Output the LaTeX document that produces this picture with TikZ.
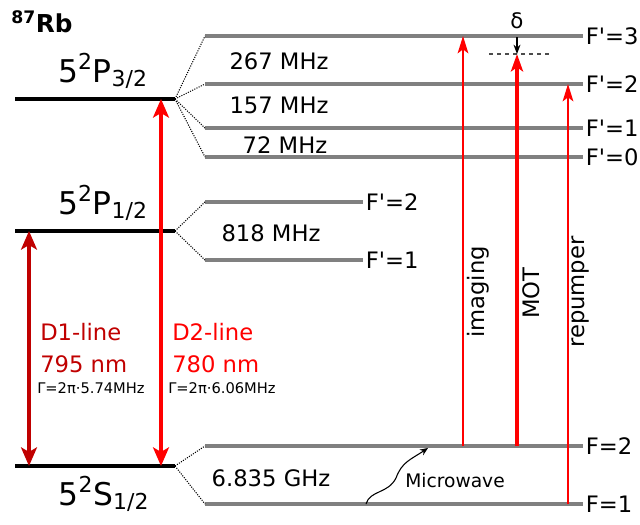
\documentclass[tikz,border=0pt]{standalone}
\usepackage{fontspec}
\setmainfont{DejaVu Sans}
\usetikzlibrary{arrows.meta,calc,positioning}
\definecolor{deepred}{HTML}{C00000}
\definecolor{levelgray}{HTML}{808080}
\newcommand\Fp{F\textquotesingle}

\begin{document}
\begin{tikzpicture}[x=0.75pt,y=-0.75pt,>=Stealth,font=\fontsize{17}{20}\selectfont]
\tikzset{coarse/.style={draw=black,line width=3pt},
  fine/.style={draw=levelgray,line width=2.6pt},
  split/.style={densely dotted,line width=0.8pt},
  term/.style={font=\fontsize{23.5}{26}\selectfont,anchor=base,inner sep=0pt},
  flabel/.style={anchor=west,inner sep=2pt},
  laser/.style={draw=red,line width=1.5pt,-{Stealth[length=13pt,width=8pt,inset=3pt]}},
  dline/.style={line width=2.3pt,{Stealth[length=14pt,width=12pt,inset=3.5pt]}-{Stealth[length=14pt,width=12pt,inset=3.5pt]}},
  small/.style={font=\fontsize{11}{13}\selectfont,anchor=base west,inner sep=0pt},
  dtext/.style={anchor=base west,inner sep=0pt}}
\useasboundingbox (0,0) rectangle (640,525);
% fine structure
\foreach \n/\y in {p32/99,p12/231,s12/466}{
  \coordinate (\n-l) at (15,\y); \coordinate (\n-r) at (175,\y);
  \draw[coarse] (\n-l) -- (\n-r);}
\node[term] (p32) at (103,82) {5\textsuperscript{2}P\textsubscript{3/2}};
\node[term] (p12) at (103,214) {5\textsuperscript{2}P\textsubscript{1/2}};
\node[term] (s12) at (104,505) {5\textsuperscript{2}S\textsubscript{1/2}};
\node[anchor=base west,inner sep=0pt,font=\fontsize{18.5}{20}\selectfont] (rb) at (11,32) {\textbf{\textsuperscript{87}Rb}};
% hyperfine levels
\foreach \n/\y/\f in {e3/36/3,e2/84/2,e1/128/1,e0/157/0}{
  \coordinate (\n-l) at (205,\y); \coordinate (\n-r) at (583,\y);
  \draw[fine] (\n-l) -- (\n-r);
  \draw[split] (p32-r) -- (\n-l);
  \node[flabel] (\n) at (\n-r) {\Fp=\f};}
\foreach \n/\y/\f in {d2/202,d1/260}{
  \coordinate (\n-l) at (205,\y); \coordinate (\n-r) at (363,\y);
  \draw[fine] (\n-l) -- (\n-r);
  \draw[split] (p12-r) -- (\n-l);}
\node[flabel] (d2) at (d2-r) {\Fp=2};
\node[flabel] (d1) at (d1-r) {\Fp=1};
\foreach \n/\y/\f in {g2/446/2,g1/504/1}{
  \coordinate (\n-l) at (205,\y); \coordinate (\n-r) at (583,\y);
  \draw[fine] (\n-l) -- (\n-r);
  \draw[split] (s12-r) -- (\n-l);
  \node[flabel] (\n) at (\n-r) {F=\f};}
\node (hf3) at (279,61) {267 MHz};
\node (hf2) at (279,105) {157 MHz};
\node (hf1) at (285,145) {72 MHz};
\node (hfp) at (271,233) {818 MHz};
\node (hfs) at (271,478) {6.835 GHz};
% D lines
\coordinate (d1-top) at (29,231); \coordinate (d1-bot) at (29,466);
\coordinate (d2-top) at (161,99); \coordinate (d2-bot) at (161,466);
\draw[dline,deepred] (d1-top) -- (d1-bot);
\draw[dline,red] (d2-top) -- (d2-bot);
\node[dtext,text=deepred] (d1name) at (40,340) {D1-line};
\node[dtext,text=deepred] (d1wave) at (40,372) {795 nm};
\node[small] (d1width) at (37,393) {Γ=2π·5.74MHz};
\node[dtext,text=red] (d2name) at (172,340) {D2-line};
\node[dtext,text=red] (d2wave) at (172,372) {780 nm};
\node[small] (d2width) at (168,393) {Γ=2π·6.06MHz};
% lasers
\coordinate (img-a) at (463,446); \coordinate (img-b) at (463,36);
\coordinate (mot-a) at (517,446); \coordinate (mot-b) at (517,54);
\coordinate (rep-a) at (568,504); \coordinate (rep-b) at (568,84);
\coordinate (det-l) at (489,54); \coordinate (det-r) at (550,54);
\draw[laser] (img-a) -- (img-b);
\draw[laser,line width=3.5pt,-{Stealth[length=13pt,width=9pt,inset=3pt]}] (mot-a) -- (mot-b);
\draw[laser] (rep-a) -- (rep-b);
\draw[dashed,black!70,line width=0.8pt] (det-l) -- (det-r);
\draw[->,line width=0.9pt] (517,37) -- (det-l -| mot-b);
\node[font=\fontsize{16}{18}\selectfont] (delta) at (517,21) {δ};
\node[rotate=90] (imaging) at (478,292) {imaging};
\node[rotate=90] (mot) at (531,293) {MOT};
\node[rotate=90] (repumper) at (581,292) {repumper};
% microwave
\coordinate (mw-a) at (366,504); \coordinate (mw-b) at (428,448);
\draw[-{Stealth[length=6pt,width=5pt]},line width=0.8pt] (mw-a) .. controls (370,490) and (388,494) .. (396,478) .. controls (402,462) and (410,460) .. (mw-b);
\node[font=\fontsize{14}{16}\selectfont] (mw) at (455,481) {Microwave};
\end{tikzpicture}
\end{document}
